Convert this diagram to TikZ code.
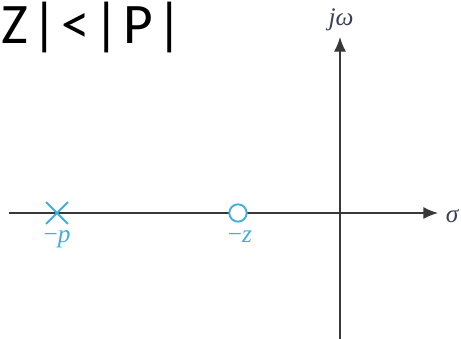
\documentclass[tikz,border=0pt]{standalone}
\usepackage{amsmath}
\usepackage{fontspec}
\usepackage{tikz}
\usetikzlibrary{arrows.meta,positioning,shapes.misc}
\newfontfamily\titlefont[LetterSpace=6]{Carlito}
\newfontfamily\labelfont{Liberation Serif}
\definecolor{polezero}{HTML}{3FAEE0}
\definecolor{axislabel}{HTML}{3A3F5C}
\definecolor{axisline}{HTML}{383838}
\newcommand{\ital}[1]{{\itshape #1}}

\begin{document}
\begin{tikzpicture}[x=0.75pt, y=-0.75pt]
    \useasboundingbox (0,0) rectangle (461,339);
    % Title
    \node[anchor=base west, inner sep=0pt, font=\titlefont\fontsize{43}{43}\selectfont] (title) at (1, 43) {Z|<|P|};

    % Axes ends
    \coordinate (xleft) at (9, 213);
    \coordinate (xright) at (438, 213);
    \coordinate (ybottom) at (340, 339);
    \coordinate (ytop) at (340, 37);
    \draw[-{Latex[length=11pt, width=9pt]}, line width=1pt, axisline] (xleft) -- (xright);
    \draw[-{Latex[length=11pt, width=9pt]}, line width=1pt, axisline] (ybottom) -- (ytop);
    \node[axislabel, anchor=base, font=\labelfont\fontsize{19}{19}\selectfont] (sigma) at (452, 222) {\ital{σ}};
    \node[axislabel, anchor=base, font=\labelfont\fontsize{19}{19}\selectfont] (jomega) at (341, 26) {\ital{jω}};

    % Pole and zero
    \node[cross out, draw=polezero, line width=1.4pt, minimum size=15pt, inner sep=0pt] (pole) at (57, 213) {};
    \node[circle, draw=polezero, fill=white, line width=1.4pt, minimum size=13pt, inner sep=0pt] (zero) at (238, 213) {};
    \node[polezero, anchor=base, font=\labelfont\fontsize{19}{19}\selectfont] (polelabel) at (57, 242) {−\ital{p}};
    \node[polezero, anchor=base, font=\labelfont\fontsize{19}{19}\selectfont] (zerolabel) at (240, 242) {−\ital{z}};
  \end{tikzpicture}
\end{document}
